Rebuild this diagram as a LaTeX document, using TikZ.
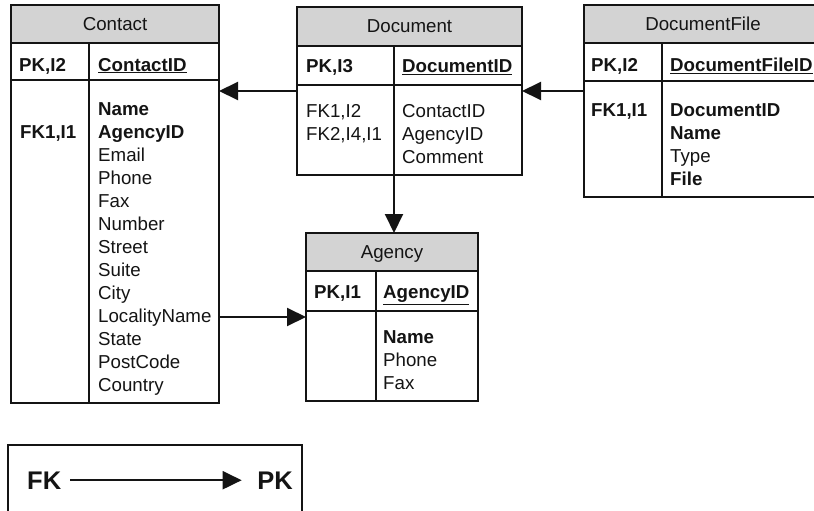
\documentclass[tikz,border=0pt]{standalone}
\usepackage{fontspec}
\setmainfont{Liberation Sans}
\usetikzlibrary{arrows.meta}
\definecolor{hdrgray}{RGB}{211,211,211}
\definecolor{ink}{RGB}{20,20,20}
\begin{document}
\begin{tikzpicture}[x=1pt,y=-1pt,
  font=\fontsize{18.7}{23}\selectfont,
  tbl/.style={inner sep=0, outer sep=0, shape=rectangle},
  hdr/.style={fill=hdrgray},
  tblline/.style={draw=ink, line width=1.4pt},
  txt/.style={inner sep=0, anchor=base west, text=ink},
  hd/.style={inner sep=0, anchor=base, text=ink},
  conn/.style={draw=ink, line width=2pt, -{Triangle[length=19pt,width=18pt]}},
  big/.style={inner sep=0, text=ink, font=\fontsize{25.5}{30}\selectfont\bfseries}]

\useasboundingbox (0,0) rectangle (814,511);
\fill[white] (0,0) rectangle (814,511);
\clip (0,0) rectangle (814,511);

% ---------- table outlines (named for the connectors) ----------
\node[tbl, minimum width=208pt, minimum height=398pt] (contact)  at (115,204)   {};
\node[tbl, minimum width=225pt, minimum height=168pt] (document) at (409.5,91)  {};
\node[tbl, minimum width=238pt, minimum height=192pt] (docfile)  at (703,101)   {};
\node[tbl, minimum width=172pt, minimum height=168pt] (agency)   at (392,317)   {};
\node[tbl, minimum width=294pt, minimum height=90pt]  (legend)   at (155,490)   {};

% ---------- Contact ----------
\fill[hdr] (11,5) rectangle (219,43);
\draw[tblline] (11,43) -- (219,43) (11,80) -- (219,80) (89,43) -- (89,403);
\draw[tblline] (contact.north west) rectangle (contact.south east);
\node[hd]  (contactT)  at (115,30.7) {Contact};
\node[txt] (contactPK) at (19,71)    {\textbf{PK,I2}};
\node[txt] (contactID) at (98,71)    {\underline{\textbf{ContactID}}};
\node[txt] (contactFK) at (20,138)   {\textbf{FK1,I1}};
\foreach \t [count=\i from 0] in {\textbf{Name}, \textbf{AgencyID}, Email, Phone, Fax,
    Number, Street, Suite, City, LocalityName, State, PostCode, Country}
  \node[txt] (cf\i) at ({98},{115.7+23*\i}) {\t};

% ---------- Document ----------
\fill[hdr] (297,7) rectangle (522,46);
\draw[tblline] (297,46) -- (522,46) (297,85) -- (522,85) (394,46) -- (394,175);
\draw[tblline] (document.north west) rectangle (document.south east);
\node[hd]  (documentT)  at (409.5,33) {Document};
\node[txt] (documentPK) at (306,73)   {\textbf{PK,I3}};
\node[txt] (documentID) at (402,73)   {\underline{\textbf{DocumentID}}};
\node[txt] (documentFKa) at (306,117.7) {FK1,I2};
\node[txt] (documentFKb) at (306,140.7) {FK2,I4,I1};
\foreach \t [count=\i from 0] in {ContactID, AgencyID, Comment}
  \node[txt] (df\i) at ({402},{117.7+23*\i}) {\t};

% ---------- DocumentFile ----------
\fill[hdr] (584,5) rectangle (822,43);
\draw[tblline] (584,43) -- (822,43) (584,81) -- (822,81) (662,43) -- (662,197);
\draw[tblline] (docfile.north west) rectangle (docfile.south east);
\node[hd]  (docfileT)  at (703,31)  {DocumentFile};
\node[txt] (docfilePK) at (591,72)  {\textbf{PK,I2}};
\node[txt] (docfileID) at (670,72)  {\underline{\textbf{DocumentFileID}}};
\node[txt] (docfileFK) at (591,116) {\textbf{FK1,I1}};
\foreach \t [count=\i from 0] in {\textbf{DocumentID}, \textbf{Name}, Type, \textbf{File}}
  \node[txt] (ff\i) at ({670},{116+23*\i}) {\t};

% ---------- Agency ----------
\fill[hdr] (306,233) rectangle (478,271);
\draw[tblline] (306,271) -- (478,271) (306,311) -- (478,311) (376,271) -- (376,401);
\draw[tblline] (agency.north west) rectangle (agency.south east);
\node[hd]  (agencyT)  at (392,258.7) {Agency};
\node[txt] (agencyPK) at (314,298.7) {\textbf{PK,I1}};
\node[txt] (agencyID) at (383,298.7) {\underline{\textbf{AgencyID}}};
\foreach \t [count=\i from 0] in {\textbf{Name}, Phone, Fax}
  \node[txt] (af\i) at ({383},{343.7+23*\i}) {\t};

% ---------- relationships (FK -> PK) ----------
\coordinate (fkrow) at (0,91);
\coordinate (docdiv) at (394,0);
\draw[conn] (document.west |- fkrow) -- (contact.east |- fkrow);
\draw[conn] (docfile.west |- fkrow) -- (document.east |- fkrow);
\draw[conn] (document.south -| docdiv) -- (agency.north -| docdiv);
\draw[conn] (contact.east |- agency.west) -- (agency.west);

% ---------- legend ----------
\draw[tblline] (legend.north west) rectangle (legend.south east);
\node[big, anchor=base west] (fk) at (27,489) {FK};
\node[big, anchor=base east] (pk) at (293,489) {PK};
\draw[conn, shorten <=9pt, shorten >=15.5pt] (fk.east) -- (pk.west);

\end{tikzpicture}
\end{document}
